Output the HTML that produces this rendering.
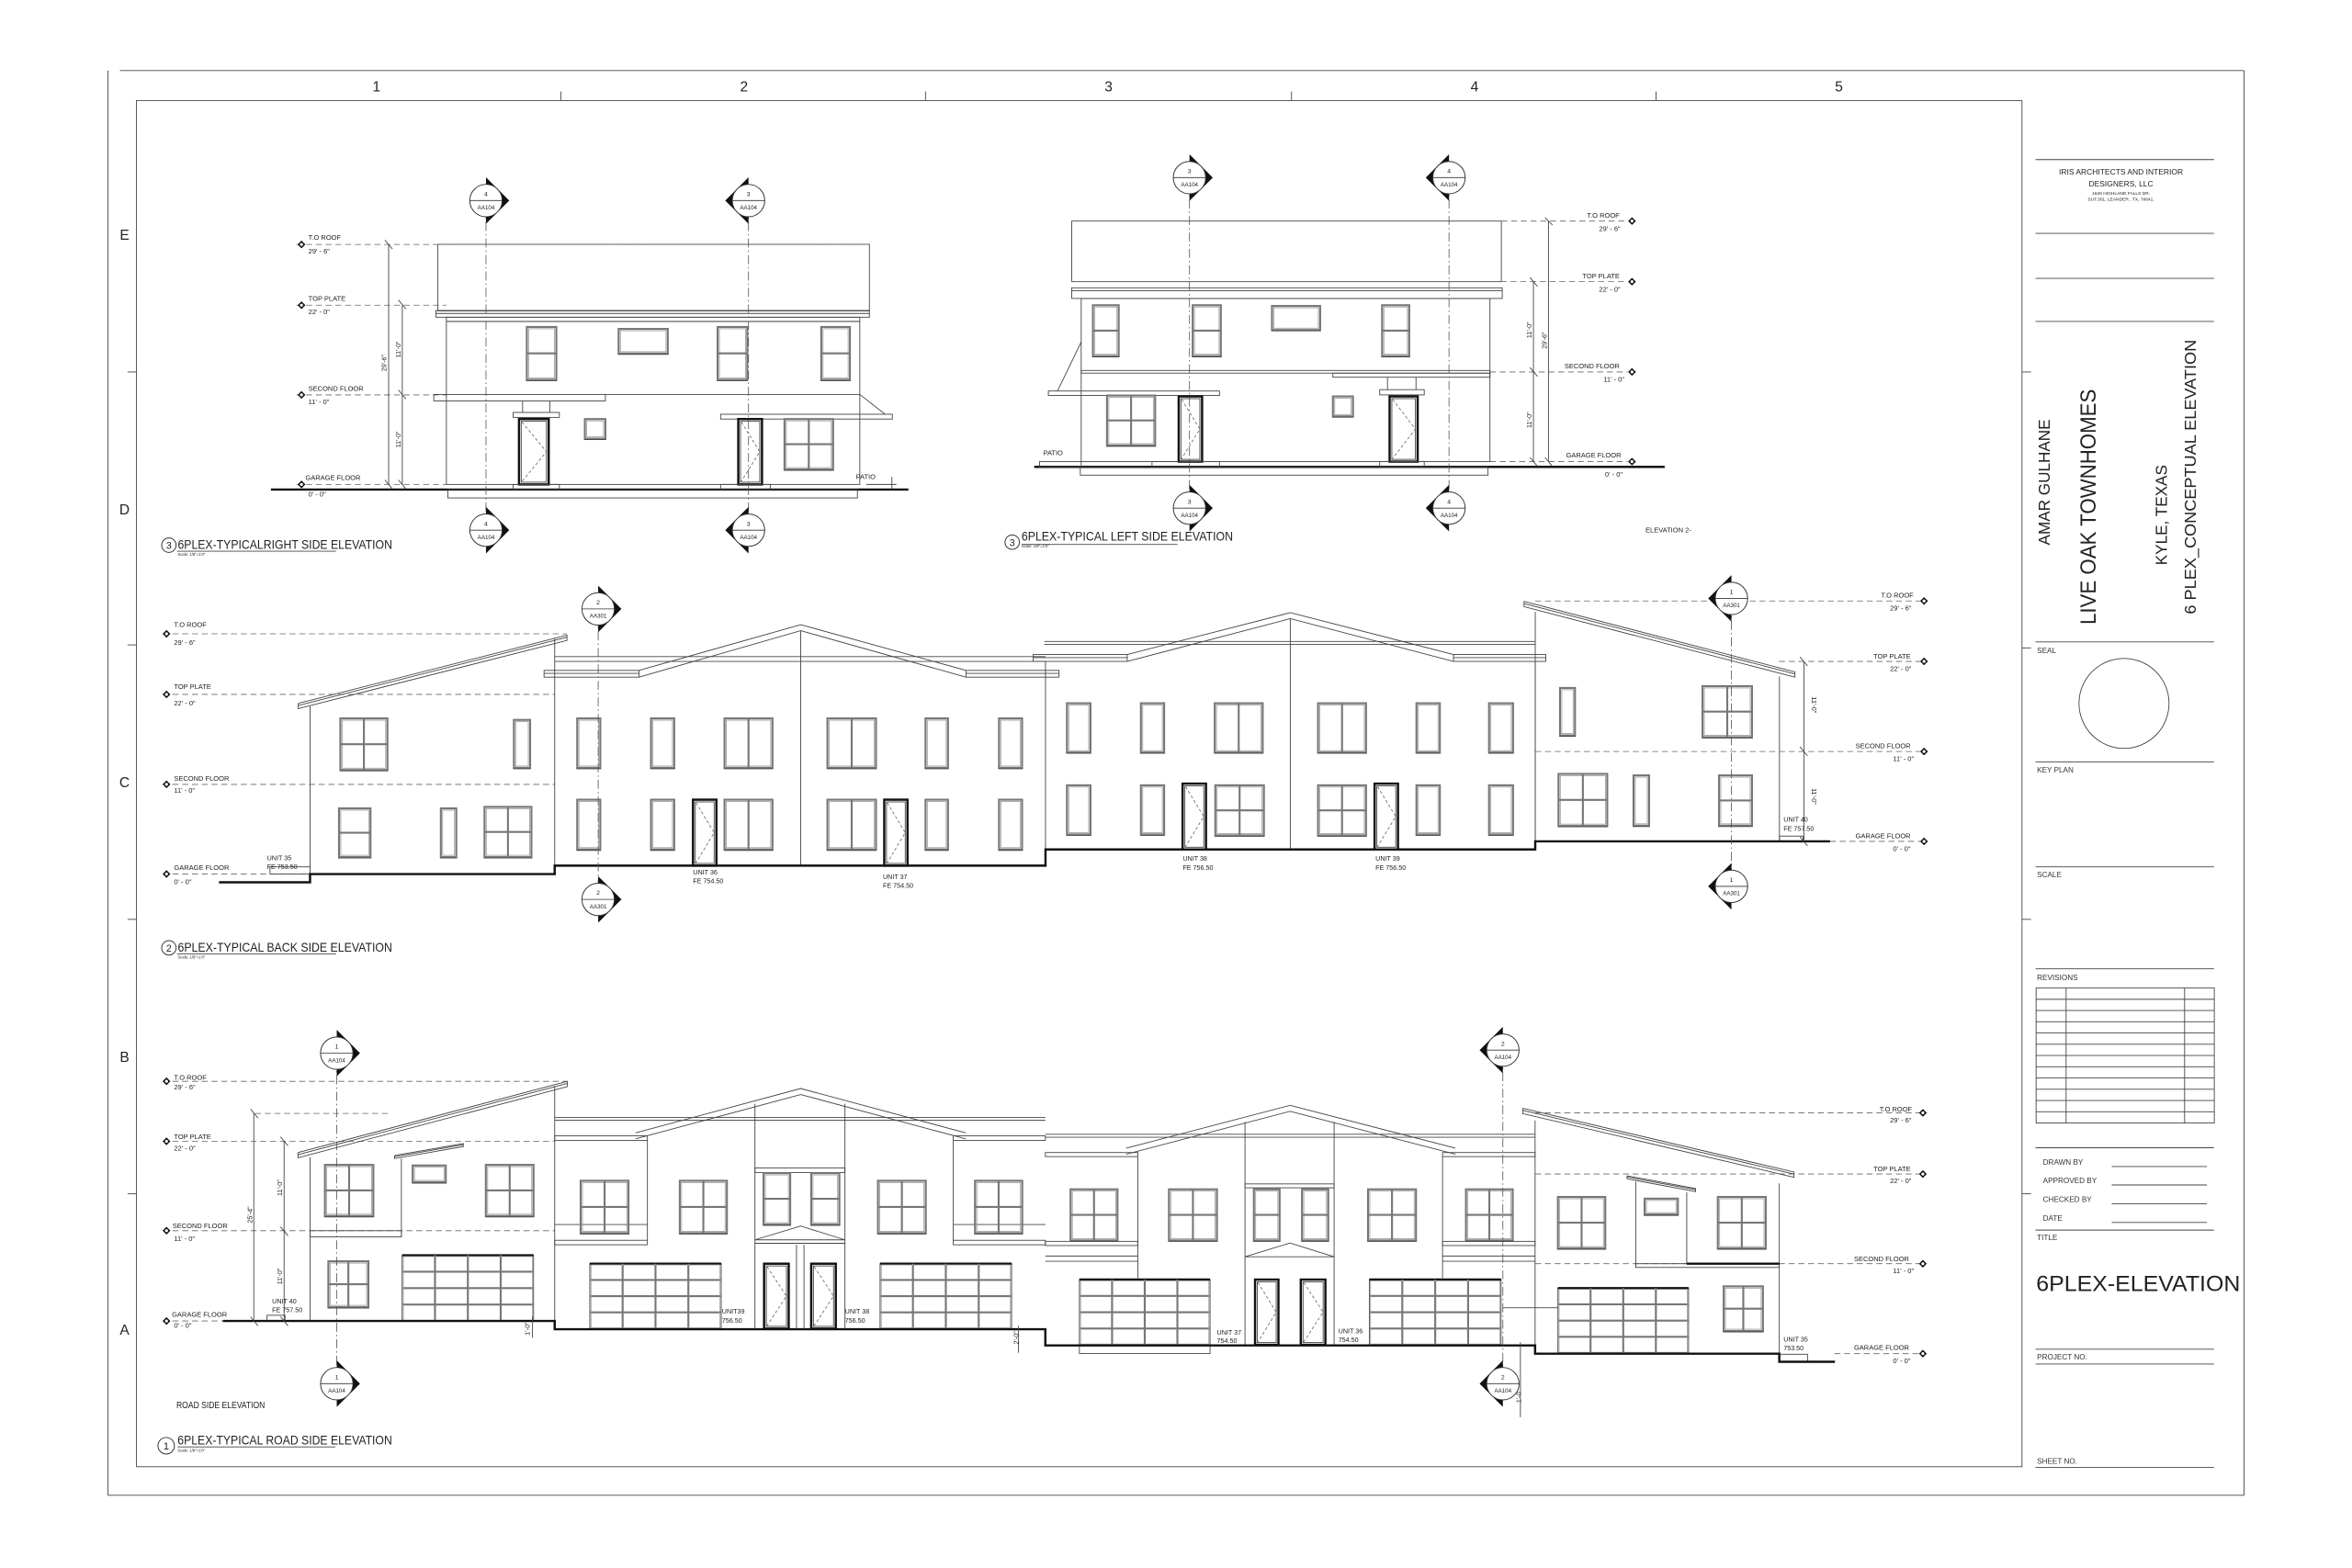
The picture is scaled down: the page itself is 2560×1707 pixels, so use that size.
<!DOCTYPE html>
<html><head><meta charset="utf-8">
<style>
html,body{margin:0;padding:0;background:#fff;}
svg{display:block;}
text{font-family:"Liberation Sans",Arial,sans-serif;fill:#222;}
.t{fill:none;stroke:#444;stroke-width:0.55;}
.f{fill:none;stroke:#888;stroke-width:0.6;}
.k{fill:none;stroke:#111;stroke-width:1.5;}
.dl{fill:none;stroke:#666;stroke-width:0.5;stroke-dasharray:4 2.5;}
.dc{fill:none;stroke:#555;stroke-width:0.5;stroke-dasharray:6 2 1 2;}
.w{fill:none;stroke:#777;stroke-width:1.3;}
.wi{fill:none;stroke:#999;stroke-width:0.5;}
.lv{font-size:4.6px;}
.u{font-size:4.4px;}
.mk{font-size:4px;}
.tl{font-size:8.5px;}
.sc{font-size:2.6px;}
.tb{font-size:5px;fill:#333;}
</style></head>
<body>
<svg id="s" width="2560" height="1707" viewBox="0 0 1568 1045.5" xmlns="http://www.w3.org/2000/svg">
<!-- frames -->
<g id="frame">
<line class="t" x1="72" y1="47" x2="72" y2="997" stroke="#999"/>
<line class="t" x1="80" y1="47" x2="1496" y2="47"/>
<line class="t" x1="1496" y1="47" x2="1496" y2="997"/>
<line class="t" x1="72" y1="997" x2="1496" y2="997"/>
<rect class="t" x="91" y="67" width="1257" height="911"/>
<line class="t" x1="374" y1="61" x2="374" y2="67"/><line class="t" x1="617" y1="61" x2="617" y2="67"/>
<line class="t" x1="861" y1="61" x2="861" y2="67"/><line class="t" x1="1104" y1="61" x2="1104" y2="67"/>
<line class="t" x1="85" y1="248" x2="91" y2="248"/><line class="t" x1="85" y1="430" x2="91" y2="430"/>
<line class="t" x1="85" y1="613" x2="91" y2="613"/><line class="t" x1="85" y1="796" x2="91" y2="796"/>
<line class="t" x1="1348" y1="248" x2="1354" y2="248"/><line class="t" x1="1348" y1="432" x2="1354" y2="432"/>
<line class="t" x1="1348" y1="613" x2="1354" y2="613"/><line class="t" x1="1348" y1="796" x2="1354" y2="796"/>
</g>
<g font-size="9.5" text-anchor="middle">
<text x="251" y="61">1</text><text x="496" y="61">2</text><text x="739" y="61">3</text><text x="983" y="61">4</text><text x="1226" y="61">5</text>
<text x="83" y="160">E</text><text x="83" y="343">D</text><text x="83" y="525">C</text><text x="83" y="708">B</text><text x="83" y="890">A</text>
</g>

<!-- Title block -->
<g>
<line class="t" x1="1357" y1="106.4" x2="1476" y2="106.4"/>
<line class="t" x1="1357" y1="155.6" x2="1476" y2="155.6"/>
<line class="t" x1="1357" y1="185.6" x2="1476" y2="185.6"/>
<line class="t" x1="1357" y1="214.3" x2="1476" y2="214.3"/>
<line class="t" x1="1357" y1="428" x2="1476" y2="428"/>
<line class="t" x1="1357" y1="508" x2="1476" y2="508"/>
<line class="t" x1="1357" y1="578" x2="1476" y2="578"/>
<line class="t" x1="1357" y1="646" x2="1476" y2="646"/>
<circle class="t" cx="1416" cy="469" r="30"/>
<text x="1414" y="116.5" text-anchor="middle" font-size="5.2">IRIS ARCHITECTS AND INTERIOR</text>
<text x="1414" y="124.2" text-anchor="middle" font-size="5.2">DESIGNERS, LLC</text>
<text x="1414" y="129.8" text-anchor="middle" font-size="3">1640 HIGHLAND FALLS DR.</text>
<text x="1414" y="133.8" text-anchor="middle" font-size="3">SUT.301, LEANDER , TX, 78641.</text>
<text transform="translate(1366.5,321.5) rotate(-90)" text-anchor="middle" font-size="10.5">AMAR GULHANE</text>
<text transform="translate(1397,338) rotate(-90)" text-anchor="middle" font-size="15" textLength="157" lengthAdjust="spacingAndGlyphs">LIVE OAK TOWNHOMES</text>
<text transform="translate(1444.5,343.4) rotate(-90)" text-anchor="middle" font-size="10.5">KYLE, TEXAS</text>
<text transform="translate(1464,318) rotate(-90)" text-anchor="middle" font-size="10.5" textLength="183" lengthAdjust="spacingAndGlyphs">6 PLEX_CONCEPTUAL ELEVATION</text>
<text x="1358" y="435.5" class="tb">SEAL</text>
<text x="1358" y="515" class="tb">KEY PLAN</text>
<text x="1358" y="585" class="tb">SCALE</text>
<text x="1358" y="653.5" class="tb">REVISIONS</text>
<rect class="t" x="1357.4" y="658.8" width="118.8" height="90"/>
<g id="revrows"></g>
<line class="t" x1="1377.4" y1="658.8" x2="1377.4" y2="748.8"/>
<line class="t" x1="1456.4" y1="658.8" x2="1456.4" y2="748.8"/>
<line class="t" x1="1357" y1="765.3" x2="1476" y2="765.3"/>
<text x="1362" y="776.5" class="tb">DRAWN BY</text>
<text x="1362" y="789" class="tb">APPROVED BY</text>
<text x="1362" y="801.5" class="tb">CHECKED BY</text>
<text x="1362" y="814" class="tb">DATE</text>
<line class="t" x1="1407.8" y1="777.8" x2="1471.3" y2="777.8"/>
<line class="t" x1="1407.8" y1="790.1" x2="1471.3" y2="790.1"/>
<line class="t" x1="1407.8" y1="802.6" x2="1471.3" y2="802.6"/>
<line class="t" x1="1407.8" y1="815.1" x2="1471.3" y2="815.1"/>
<line class="t" x1="1357" y1="820.2" x2="1476" y2="820.2"/>
<text x="1358" y="827" class="tb">TITLE</text>
<text x="1357.5" y="861" font-size="14.5" textLength="136" lengthAdjust="spacingAndGlyphs">6PLEX-ELEVATION</text>
<line class="t" x1="1357" y1="899.6" x2="1476" y2="899.6"/>
<text x="1358" y="906.5" class="tb">PROJECT NO.</text>
<line class="t" x1="1357" y1="909.5" x2="1476" y2="909.5"/>
<text x="1358" y="976" class="tb">SHEET NO.</text>
<line class="t" x1="1357" y1="978.5" x2="1476" y2="978.5"/>
</g>

<g id="draw"></g>

<!-- ========== TEXT: right side elevation ========== -->
<g transform="translate(-2.4,0)">
<text class="lv" x="208" y="160">T.O ROOF</text><text class="lv" x="208" y="169">29' - 6"</text>
<text class="lv" x="208" y="200.5">TOP PLATE</text><text class="lv" x="208" y="209.5">22' - 0"</text>
<text class="lv" x="208" y="260.5">SECOND FLOOR</text><text class="lv" x="208" y="269.5">11' - 0"</text>
<text class="lv" x="206" y="320">GARAGE FLOOR</text><text class="lv" x="208" y="331">0' - 0"</text>
<text class="lv" x="573" y="319.5">PATIO</text>
<text class="u" transform="translate(260,242) rotate(-90)" text-anchor="middle">29'-6"</text>
<text class="u" transform="translate(269.3,233) rotate(-90)" text-anchor="middle">11'-0"</text>
<text class="u" transform="translate(269.3,293) rotate(-90)" text-anchor="middle">11'-0"</text>
</g>
<text class="tl" x="118.5" y="366" textLength="143" lengthAdjust="spacingAndGlyphs">6PLEX-TYPICALRIGHT SIDE ELEVATION</text>
<text class="sc" x="118.5" y="370.5">Scale: 1/8"=1'0"</text>

<!-- left side elevation text -->
<text class="lv" x="1058" y="145">T.O ROOF</text><text class="lv" x="1066" y="154">29' - 6"</text>
<text class="lv" x="1055" y="185.5">TOP PLATE</text><text class="lv" x="1066" y="194.5">22' - 0"</text>
<text class="lv" x="1043" y="245.5">SECOND FLOOR</text><text class="lv" x="1069" y="254.5">11' - 0"</text>
<text class="lv" x="1044" y="305">GARAGE FLOOR</text><text class="lv" x="1070" y="318">0' - 0"</text>
<text class="lv" x="695.5" y="303.5">PATIO</text>
<text class="u" transform="translate(1021,220) rotate(-90)" text-anchor="middle">11'-0"</text>
<text class="u" transform="translate(1021,280) rotate(-90)" text-anchor="middle">11'-0"</text>
<text class="u" transform="translate(1031,227) rotate(-90)" text-anchor="middle">29'-6"</text>
<text class="tl" x="681" y="360.5" textLength="141" lengthAdjust="spacingAndGlyphs">6PLEX-TYPICAL LEFT SIDE ELEVATION</text>
<text class="sc" x="681" y="365">Scale: 1/8"=1'0"</text>
<text class="lv" x="1097" y="355" font-size="5.4">ELEVATION 2-</text>

<!-- back side text -->
<text class="lv" x="116" y="418">T.O ROOF</text><text class="lv" x="116" y="430">29' - 6"</text>
<text class="lv" x="116" y="459.5">TOP PLATE</text><text class="lv" x="116" y="470.5">22' - 0"</text>
<text class="lv" x="116" y="520.5">SECOND FLOOR</text><text class="lv" x="116" y="528.5">11' - 0"</text>
<text class="lv" x="116" y="580">GARAGE FLOOR</text><text class="lv" x="116" y="589.5">0' - 0"</text>
<text class="lv" x="1254" y="398.5">T.O ROOF</text><text class="lv" x="1260" y="407">29' - 6"</text>
<text class="lv" x="1249" y="439">TOP PLATE</text><text class="lv" x="1260" y="447.5">22' - 0"</text>
<text class="lv" x="1237" y="499">SECOND FLOOR</text><text class="lv" x="1262" y="507.5">11' - 0"</text>
<text class="lv" x="1237" y="559">GARAGE FLOOR</text><text class="lv" x="1262" y="567.5">0' - 0"</text>
<text class="u" x="178" y="573.5">UNIT 35</text><text class="u" x="178" y="579.5">FE 753.50</text>
<text class="u" x="462" y="583">UNIT 36</text><text class="u" x="462" y="589">FE 754.50</text>
<text class="u" x="588.6" y="586">UNIT 37</text><text class="u" x="588.6" y="592">FE 754.50</text>
<text class="u" x="788.5" y="574">UNIT 38</text><text class="u" x="788.5" y="580">FE 756.50</text>
<text class="u" x="917" y="574">UNIT 39</text><text class="u" x="917" y="580">FE 756.50</text>
<text class="u" x="1189" y="548">UNIT 40</text><text class="u" x="1189" y="554">FE 757.50</text>
<text class="u" transform="translate(1208,470) rotate(90)" text-anchor="middle">11'-0"</text>
<text class="u" transform="translate(1208,531) rotate(90)" text-anchor="middle">11'-0"</text>
<text class="tl" x="118.5" y="634.5" textLength="143" lengthAdjust="spacingAndGlyphs">6PLEX-TYPICAL BACK SIDE ELEVATION</text>
<text class="sc" x="118.5" y="639">Scale: 1/8"=1'0"</text>

<!-- road side text -->
<text class="lv" x="116" y="720">T.O ROOF</text><text class="lv" x="116" y="726.5">29' - 6"</text>
<text class="lv" x="116" y="759.5">TOP PLATE</text><text class="lv" x="116" y="767">22' - 0"</text>
<text class="lv" x="115" y="819">SECOND FLOOR</text><text class="lv" x="116" y="827.5">11' - 0"</text>
<text class="lv" x="114.6" y="878">GARAGE FLOOR</text><text class="lv" x="116" y="885.5">0' - 0"</text>
<text class="lv" x="1253" y="741">T.O ROOF</text><text class="lv" x="1260" y="748.5">29' - 6"</text>
<text class="lv" x="1249" y="781">TOP PLATE</text><text class="lv" x="1260" y="789">22' - 0"</text>
<text class="lv" x="1236" y="841">SECOND FLOOR</text><text class="lv" x="1262" y="849">11' - 0"</text>
<text class="lv" x="1236" y="900">GARAGE FLOOR</text><text class="lv" x="1262" y="909">0' - 0"</text>
<text class="u" x="181.4" y="869">UNIT 40</text><text class="u" x="181.4" y="875">FE 757.50</text>
<text class="u" x="481.3" y="876">UNIT39</text><text class="u" x="481.3" y="882">756.50</text>
<text class="u" x="563.3" y="876">UNIT 38</text><text class="u" x="563.3" y="882">756.50</text>
<text class="u" x="811.3" y="890" font-size="3.6">UNIT 37</text><text class="u" x="811.3" y="895.5" font-size="3.6">754.50</text>
<text class="u" x="892.2" y="889">UNIT 36</text><text class="u" x="892.2" y="895">754.50</text>
<text class="u" x="1189" y="894.5">UNIT 35</text><text class="u" x="1189" y="900.5">753.50</text>
<text class="u" transform="translate(168,810) rotate(-90)" text-anchor="middle">25'-4"</text>
<text class="u" transform="translate(188,792) rotate(-90)" text-anchor="middle">11'-0"</text>
<text class="u" transform="translate(188,851) rotate(-90)" text-anchor="middle">11'-0"</text>
<text class="u" transform="translate(353,886) rotate(-90)" text-anchor="middle">1'-0"</text>
<text class="u" transform="translate(679,892) rotate(-90)" text-anchor="middle">2'-0"</text>
<text class="u" transform="translate(1014,931) rotate(-90)" text-anchor="middle">1'-0"</text>
<text x="117.6" y="939" font-size="6" textLength="59" lengthAdjust="spacingAndGlyphs">ROAD SIDE ELEVATION</text>
<text class="tl" x="118.4" y="963" textLength="143" lengthAdjust="spacingAndGlyphs">6PLEX-TYPICAL ROAD SIDE ELEVATION</text>
<text class="sc" x="118.4" y="968">Scale: 1/8"=1'0"</text>

<g id="marks"></g>
</svg>
<script>
(function(){
var NS="http://www.w3.org/2000/svg";
var D=document.getElementById('draw'), M=document.getElementById('marks');
var cur=D;
function el(n,a,p){var e=document.createElementNS(NS,n);for(var k in a)e.setAttribute(k,a[k]);(p||cur).appendChild(e);return e;}
function L(x1,y1,x2,y2,c){return el('line',{x1:x1,y1:y1,x2:x2,y2:y2,'class':c||'t'});}
function R(x1,y1,x2,y2,c){return el('rect',{x:x1,y:y1,width:x2-x1,height:y2-y1,'class':c||'t',fill:'none'});}
function P(pts,c){return el('polyline',{points:pts,'class':c||'t'});}
function W(x1,y1,x2,y2,t){
  R(x1,y1,x2,y2,'w');R(x1+1.2,y1+1.2,x2-1.2,y2-1.2,'wi');
  L(x1-0.5,y2+0.6,x2+0.5,y2+0.6,'t');
  if(t==2||t==4){var my=(y1+y2)/2;L(x1,my,x2,my,'w');}
  if(t==4){var mx=(x1+x2)/2;L(mx,y1,mx,y2,'w');}
  if(t=='h'){var mx2=(x1+x2)/2;L(mx2,y1,mx2,y2,'w');}
}
function Dr(x1,y1,x2,y2){R(x1,y1,x2,y2,'k');R(x1+1.5,y1+1.5,x2-1.5,y2-1.5,'t');
  el('polyline',{points:(x1+2)+','+(y1+2)+' '+(x2-1.5)+','+((y1+y2)/2)+' '+(x1+2)+','+(y2-2),'class':'dl',style:'stroke-dasharray:2 1.5'});}
function G(x1,y1,x2,y2){R(x1,y1,x2,y2,'t');L(x1,y1,x2,y1,'k');
  for(var i=1;i<4;i++){var x=x1+(x2-x1)*i/4;L(x,y1,x,y2,'w');}
  for(var j=1;j<4;j++){var y=y1+(y2-y1)*j/4;L(x1,y,x2,y,'w');}
  R(x1+0.8,y1+0.8,x2-0.8,y2-0.5,'wi');}
function LV(x,y){el('polygon',{points:(x-2.6)+','+y+' '+x+','+(y-2.6)+' '+(x+2.6)+','+y+' '+x+','+(y+2.6),fill:'#111'});
  el('circle',{cx:x,cy:y,r:1,fill:'#fff'});}
function SM(cx,cy,d,a,b){var s=d>0?1:-1;
  el('polygon',{points:cx+','+(cy-15.5)+' '+(cx+s*15.5)+','+cy+' '+cx+','+(cy+15.5),fill:'#111'},M);
  el('circle',{cx:cx,cy:cy,r:10.8,fill:'#fff',stroke:'#333','stroke-width':0.6},M);
  el('line',{x1:cx-10.8,y1:cy,x2:cx+10.8,y2:cy,stroke:'#333','stroke-width':0.5},M);
  var t=el('text',{x:cx,y:cy-3,'text-anchor':'middle','font-size':'4.2'},M);t.textContent=a;
  t=el('text',{x:cx,y:cy+6,'text-anchor':'middle','font-size':'3.8'},M);t.textContent=b;}
function slab(x1,y1,x2,y2,th){P(x1+','+y1+' '+x2+','+y2+' '+x2+','+(y2+th)+' '+x1+','+(y1+th)+' '+x1+','+y1,'t');L(x1,y1+th*0.4,x2,y2+th*0.4,'t');}

// revision rows
cur=document.getElementById('revrows');
for(var i=1;i<12;i++){var y=658.8+i*90/12;L(1357.4,y,1476.2,y);}
cur=D;

/* ===== RIGHT SIDE ELEVATION ===== */
var g=el('g',{transform:'translate(-2.4,0)'});cur=g;
R(294.3,162.9,582,207.3);
L(200,163,582,163,'dl');L(200,203.5,300,203.5,'dl');L(200,263.3,300,263.3,'dl');L(200,323,300,323,'dl');
LV(203.4,163);LV(203.4,203.5);LV(203.4,263.3);LV(203.4,323);
R(293,207,582,211.5);L(293,209,582,209);R(300,211.5,575.6,214.3);
R(300,214.3,575.6,323);
L(183,326.4,608,326.4,'k');R(301,326.4,574,332);
R(291.6,263,406,267.3);L(406,263,575.6,263);
L(575.6,263,592.5,276.2);
W(353.6,218,373.3,253.2,2);W(414.8,219.3,447.6,235.7,1);W(480.8,218,500.6,253.2,2);W(549.9,218,569,253.2,2);
R(344.5,275,375.3,278.3);L(350.8,267.3,350.8,275);L(369,267.3,369,275);
Dr(348.4,279.4,368.2,323);R(344.5,323,375.3,326.4);
W(392.3,279.4,406,292.5,1);
R(482.8,276.2,597.3,279.4);Dr(494.6,279.4,510.4,323);R(482.8,323,516,326.4);
W(525.4,279.4,557.8,313,4);
L(597,318,597,326);L(580,323,600,323);
L(261.5,163,261.5,323,'t');L(270.6,203.5,270.6,323,'t');
L(259,160,264,166);L(259,320,264,326);L(268,200,273,206);L(268,260,273,266);L(268,320,273,326);
L(326.4,137,326.4,349,'dc');L(501.4,137,501.4,349,'dc');
cur=D;
SM(324,133.7,1,'4','AA104');SM(499,133.7,-1,'3','AA104');
SM(324,353.5,1,'4','AA104');SM(499,353.5,-1,'3','AA104');
el('circle',{cx:112.6,cy:363.5,r:4.8,fill:'none',stroke:'#333','stroke-width':0.6});
L(118,367.5,224,367.5);
var tt=el('text',{x:112.6,y:366,'text-anchor':'middle','font-size':'6.5'});tt.textContent='3';

/* ===== LEFT SIDE ELEVATION ===== */
R(714.5,147.4,1000.9,187.8);
L(1000.9,147.4,1085,147.4,'dl');L(714.5,187.8,1085,187.8,'dl');L(993.3,248,1085,248,'dl');L(993.3,307.8,1085,307.8,'dl');
LV(1088,147.4);LV(1088,187.8);LV(1088,248);LV(1088,307.8);
R(714.5,191.9,1001.5,199);L(714.5,193.8,1001.5,193.8);
R(720.8,199,993.3,307.8);
R(720.8,247,993.3,248.8);R(888.6,248.8,993.3,251.5);
L(689.5,311.3,1109.8,311.3,'k');R(720.2,311.3,992,316.8);
R(698.9,260.7,813,263.7);L(720.8,228,705,260.7);
W(728.6,203.5,745.8,237.4,2);W(795.1,203.5,813.9,237.4,2);W(848,204,880.1,220,1);W(921.4,203.5,939.5,237.4,2);
W(738,263.7,770.1,297,4);Dr(785.8,264.3,801.4,307.8);
W(888.6,264.3,902,277.6,1);
R(919.8,259.8,949.5,263.3);L(925,251.5,925,259.8);L(944,251.5,944,259.8);
Dr(926.4,264.3,945.1,307.8);
R(693,307.8,720.8,311.3);R(768,307.8,813,311.3);R(919.8,307.8,949.5,311.3);
L(1022.3,187.8,1022.3,307.8);L(1032.3,147.4,1032.3,307.8);
L(1020,185,1025,191);L(1020,245,1025,251);L(1020,305,1025,311);L(1030,145,1035,150);L(1030,305,1035,311);
L(793,122,793,334,'dc');L(966,122,966,334,'dc');
SM(793,118.4,1,'3','AA104');SM(966,118.4,-1,'4','AA104');
SM(793,338.8,1,'3','AA104');SM(966,338.8,-1,'4','AA104');
el('circle',{cx:674.8,cy:361.5,r:4.8,fill:'none',stroke:'#333','stroke-width':0.6});
L(681,363,785,363);
tt=el('text',{x:674.8,y:364,'text-anchor':'middle','font-size':'6.5'});tt.textContent='3';

/* ===== BACK SIDE ELEVATION ===== */
L(115,422.6,378,422.6,'dl');L(115,463,370,463,'dl');L(115,523,370,523,'dl');L(115,582.8,206,582.8,'dl');
LV(111,422.6);LV(111,463);LV(111,523);LV(111,582.8);
L(1023.5,400.7,1282,400.7,'dl');L(1186,441,1282,441,'dl');L(1023.5,501.1,1282,501.1,'dl');L(1220,561,1282,561,'dl');
LV(1282.7,400.7);LV(1282.7,441);LV(1282.7,501.1);LV(1282.7,561);
// unit35
slab(198.8,469,378,423.5,3.5);
L(206.7,471,206.7,582.8);L(369.8,426,369.8,582.8);
W(226.9,479,258.3,513.4,4);W(342.6,480,353.4,512,1);
W(226,539,247,571.5,2);W(293.9,539,304.2,571.5,1);W(323,538,354.3,571.5,4);
R(180,578,206.7,582.8);
// block 36/37
L(369.8,437.8,697,437.8);L(369.8,441,697,441);
R(362.7,447,426,451.5);L(362.7,449,426,449);
P('426,451.5 533.8,420.5 644,451.5','t');P('426,447 533.8,416.5 644,447','t');
R(644,447,706,451.5);L(644,449,706,449);
L(533.8,420.5,533.8,577.2);
W(384.8,479,400.2,512,1);W(434,479,449.5,512,1);W(483,479,515,512,'h');W(551.6,479,584,512,'h');W(617,479,632,512,1);W(666,479,681.4,512,1);
W(384.8,533.2,400.2,566.4,1);W(434,533.2,449.5,566.4,1);Dr(462,533.2,477.6,577.2);W(483,533.2,515,566.4,'h');
W(551.6,533.2,584,566.4,'h');Dr(589.5,533.2,605,577.2);W(617,533.2,632,566.4,1);W(666,533.2,681.4,566.4,1);
// block 38/39
L(696.2,427.7,1023.5,427.7);L(696.2,429.7,1023.5,429.7);L(697,441,697,566.4);
R(688.8,436.4,751.5,441);L(688.8,438.5,751.5,438.5);
P('751.5,441 860.2,412.5 969,441','t');P('751.5,436.4 860.2,408.5 969,436.4','t');
R(969,436.4,1030.5,441);L(969,438.5,1030.5,438.5);
L(860.2,412.5,860.2,566.4);L(1023.5,441,1023.5,566.4);
W(711.3,468.9,727,501.7,1);W(760.6,468.9,776.1,501.7,1);W(809.8,468.9,841.8,501.7,'h');W(878.7,468.9,910.7,501.7,'h');W(944.3,468.9,959.9,501.7,1);W(992.7,468.9,1008.7,501.7,1);
W(711.3,523.6,727,556.4,1);W(760.6,523.6,776.1,556.4,1);Dr(788.4,522.5,804,566.4);W(810.2,523.6,842.6,557,4);
W(878.7,523.6,910.7,557,4);Dr(916.4,522.5,932,566.4);W(944.3,523.6,959.9,556.4,1);W(992.7,523.6,1008.7,556.4,1);
// unit40
slab(1016,401,1196.6,448,3.5);
L(1023.5,408,1023.5,561);L(1186.3,451,1186.3,561);
W(1040,458.7,1050,490.3,1);W(1135,457.5,1168,491.5,4);
W(1039,516,1071.5,550.7,4);W(1089,517,1099.4,550.5,1);W(1146,517,1168,550.5,2);
R(1186.3,557.5,1202,561);
P('146,588.3 206.7,588.3 206.7,582.8 369.8,582.8 369.8,577.2 697,577.2 697,566.4 1023.5,566.4 1023.5,561 1220,561','k');
L(1202.7,441,1202.7,561);L(1200,438,1205,444);L(1200,498,1205,504);L(1200,558,1205,564);
L(398.8,410,398.8,596,'dc');L(1154.3,403,1154.3,587,'dc');
SM(398.8,406,1,'2','AA301');SM(398.8,599.7,1,'2','AA301');
SM(1154.3,399,-1,'1','AA301');SM(1154.3,591,-1,'1','AA301');
el('circle',{cx:112.6,cy:632,r:4.8,fill:'none',stroke:'#333','stroke-width':0.6});
L(118,636,224,636);
tt=el('text',{x:112.6,y:634.5,'text-anchor':'middle','font-size':'6.5'});tt.textContent='2';

/* ===== ROAD SIDE ELEVATION ===== */
L(115,721,378,721,'dl');L(115,761,370,761,'dl');L(115,820.6,370,820.6,'dl');L(115,880.8,150,880.8,'dl');
LV(111,721);LV(111,761);LV(111,820.6);LV(111,880.8);
L(170,742.4,260,742.4,'dl');
L(1023.4,742,1281,742,'dl');L(1023.4,782.8,1281,782.8,'dl');L(1023.4,842.6,1281,842.6,'dl');L(1223,902.6,1281,902.6,'dl');
LV(1281.9,742);LV(1281.9,782.8);LV(1281.9,842.6);LV(1281.9,902.6);
// unit 40
slab(198.7,768.5,378.2,721,3.5);
L(206.7,771.6,206.7,880.8);L(369.8,724,369.8,886.3);
slab(263,770.5,308.9,762.5,2);L(267.6,772.5,267.6,824.7);
R(206.7,820.6,267.6,824.7);
W(216.6,776.7,248.9,810.8,4);W(275.1,777.1,297.2,788.3,1);W(323.9,776.7,355.7,810.8,4);
W(218.9,841,245.6,871.6,4);G(268.1,837,355.7,880.8);
R(178,877,190,880.8);
// block 39/38
L(369.8,745.1,696.9,745.1);L(369.8,747,696.9,747);
R(369.8,757.3,431.6,760.4);R(635.5,757.3,696.9,760.4);
P('423.7,759.4 533.8,729.8 643.9,759.4','t');P('423.7,755.4 533.8,725.8 643.9,755.4','t');
L(503.3,736,503.3,886);L(563.3,736,563.3,886);
L(431.6,760.4,431.6,827);L(635.5,760.4,635.5,827);
R(369.8,827,431.6,830);R(635.5,827,696.9,830);L(369.8,816.5,431.6,816.5);L(635.5,816.5,696.9,816.5);
R(503.3,778.8,563.3,781.8);
W(387.1,787.3,419,822.2,4);W(453.2,787.3,484.6,822.2,4);W(509,782.2,526.8,816.5,2);W(540.8,782.2,559.6,816.5,2);
W(585.3,787.3,617.2,822.2,4);W(650,787.3,681.5,822.2,4);
P('503.3,826.7 533.8,817.5 563.3,826.7 503.3,826.7','t');L(503.3,829,563.3,829);
L(531,830,531,886);L(536,830,536,886);
Dr(509.4,842.6,525.8,885.9);Dr(540.8,842.6,557.2,885.9);
G(393.2,842.6,480.8,885.9);G(586.7,842.6,674.4,885.9);
// block 37/36
L(696.9,756.3,1023.4,756.3);L(696.9,758.3,1023.4,758.3);
R(696.9,768.5,758.6,771.2);R(961.7,768.5,1023.4,771.2);
P('750.8,769.6 860.1,741 970.3,769.6','t');P('750.8,765.6 860.1,737 970.3,765.6','t');
L(830,748,830,897);L(889.4,748,889.4,897);
L(758.6,771.2,758.6,852.2);L(961.7,771.2,961.7,852.2);
R(696.9,827.7,758.6,830.5);R(961.7,827.7,1023.4,830.5);L(696.9,841,758.6,841);L(961.7,841,1023.4,841);L(696.9,837.5,758.6,837.5);L(961.7,837.5,1023.4,837.5);
R(830,789.4,889.4,792);
W(713.7,793,745,827.1,4);W(779.3,793,811.3,827.1,4);W(835.9,793,853.1,827.1,2);W(868,793,885.5,827.1,2);
W(912,793,944,827.1,4);W(977.3,793,1008.5,827.1,4);
P('830,838 860,828.8 889.4,838 830,838','t');
Dr(836.7,853.2,852.3,896.7);Dr(867.2,853.2,883.6,896.7);
G(719.6,853.2,806.7,896.7);G(912.9,853.2,1000.7,896.7);
R(719.6,897.1,806.7,902.5);
// unit 35
slab(1015.2,739,1196,781.5,3.5);
L(1023.4,747.1,1023.4,902.6);L(1186.2,789,1186.2,908);
slab(1084.7,784,1130.4,792.5,2);L(1090.5,788,1090.5,845.1);L(1124.5,795,1124.5,842.6);
R(1090.5,842.6,1186.2,845.1);L(1124.5,842.6,1186.2,842.6,'k');
W(1038.6,798.1,1070.2,832.4,4);W(1096.4,799.2,1118.6,809.8,1);W(1145.2,798.1,1177.2,832.4,4);
W(1149.1,857.7,1175.3,887.5,4);G(1038.6,858.9,1125.7,902.2);
L(1002,872,1038.6,872);
R(1186.2,903,1205,908);
P('148.6,880.8 369.8,880.8 369.8,886.3 696.9,886.3 696.9,897.1 1023.4,897.1 1023.4,902.6 1186.2,902.6 1186.2,908 1223.3,908','k');
// dims
L(169.2,742.4,169.2,880.8);L(189.4,761,189.4,880.8);
L(167,739.5,172,745.5);L(167,878,172,884);L(187,758,192,764);L(187,818,192,824);L(187,878,192,884);
L(355,878,355,892);L(679,884,679,902);L(1013.6,895,1013.6,945);
L(224.5,706,224.5,919,'dc');L(1001.9,704,1001.9,919,'dc');
SM(224.5,702.2,1,'1','AA104');SM(224.5,922.6,1,'1','AA104');
SM(1001.9,700.2,-1,'2','AA104');SM(1001.9,922.6,-1,'2','AA104');
el('circle',{cx:110.8,cy:964,r:5.5,fill:'none',stroke:'#333','stroke-width':0.6});
L(118.4,964.8,223.6,964.8);
tt=el('text',{x:110.8,y:966.5,'text-anchor':'middle','font-size':'7'});tt.textContent='1';
})();
</script>
</body></html>
